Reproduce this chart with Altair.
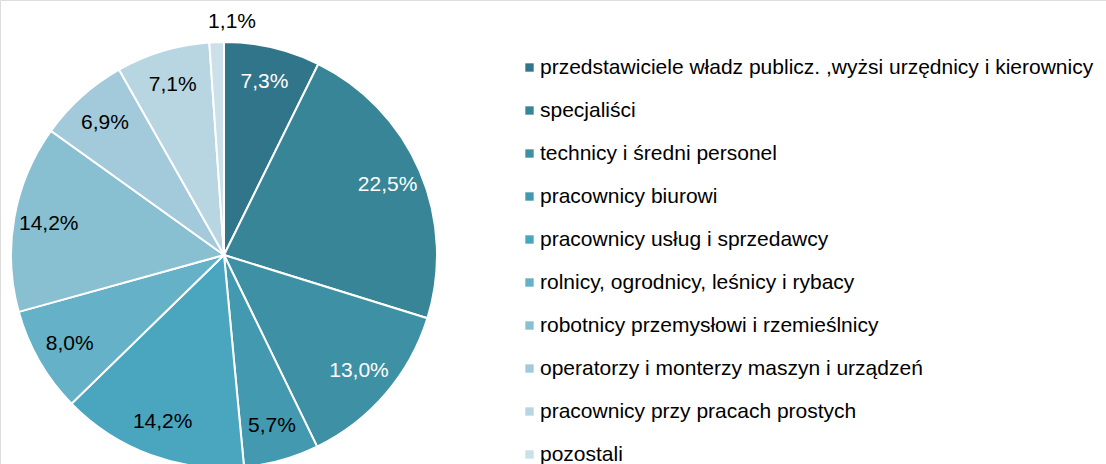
import altair as alt
import pandas as pd

categories = [
    "przedstawiciele władz publicz. ,wyżsi urzędnicy i kierownicy",
    "specjaliści",
    "technicy i średni personel",
    "pracownicy biurowi",
    "pracownicy usług i sprzedawcy",
    "rolnicy, ogrodnicy, leśnicy i rybacy",
    "robotnicy przemysłowi i rzemieślnicy",
    "operatorzy i monterzy maszyn i urządzeń",
    "pracownicy przy pracach prostych",
    "pozostali",
]
values = [7.3, 22.5, 13.0, 5.7, 14.2, 8.0, 14.2, 6.9, 7.1, 1.1]
labels = ["7,3%", "22,5%", "13,0%", "5,7%", "14,2%", "8,0%", "14,2%", "6,9%", "7,1%", "1,1%"]
colors = ["#31758A", "#378597", "#3E90A5", "#4299B0", "#4AA5BF",
          "#64B1C8", "#88BFD1", "#A2CADA", "#B8D6E1", "#CBE0E8"]
label_colors = ["white", "white", "white", "black", "black",
                "black", "black", "black", "black", "black"]

df = pd.DataFrame({
    "cat": categories,
    "val": values,
    "lab": labels,
    "lc": label_colors,
    "idx": list(range(len(categories))),
})

FONT = "Liberation Sans"
CX, CY = 224, 255

base = alt.Chart(df).encode(
    theta=alt.Theta("val:Q", stack=True),
    order=alt.Order("idx:Q"),
    x=alt.value(CX),
    y=alt.value(CY),
)

pie = base.mark_arc(radius=213, stroke="white", strokeWidth=2).encode(
    color=alt.Color(
        "cat:N",
        scale=alt.Scale(domain=categories, range=colors),
        sort=categories,
        legend=alt.Legend(
            title=None,
            orient="none",
            legendX=519,
            legendY=57,
            symbolType="square",
            symbolSize=70,
            symbolStrokeWidth=0,
            labelFont=FONT,
            labelFontSize=21,
            labelColor="black",
            labelLimit=700,
            rowPadding=21,
            labelOffset=0,
        ),
    )
)

inner = base.transform_filter("datum.val >= 2").mark_text(
    radius=178, font=FONT, fontSize=21
).encode(
    text="lab:N",
    color=alt.Color("lc:N", scale=None),
)

outer = base.transform_filter("datum.val < 2").mark_text(
    radius=233, font=FONT, fontSize=21
).encode(
    text="lab:N",
    color=alt.Color("lc:N", scale=None),
)

chart = (
    alt.layer(pie, inner, outer)
    .properties(width=1106, height=464, padding=0, autosize=alt.AutoSizeParams(type="none"))
    .configure_view(stroke=None)
    .configure(background="white")
)

chart.save("out.html", embed_options={"renderer": "svg", "actions": False})
